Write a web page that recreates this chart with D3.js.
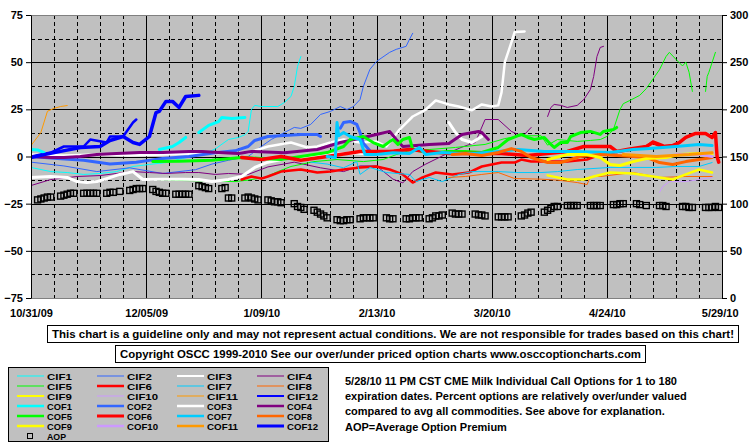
<!DOCTYPE html>
<html><head><meta charset="utf-8">
<script src="https://cdn.jsdelivr.net/npm/d3@7"></script>
<style>
body{margin:0;background:#fff}
svg{display:block}
text{font-family:Arial,"Liberation Sans",sans-serif;font-weight:bold;font-size:11px;fill:#000}
</style>
</head><body>
<svg id="c" width="755" height="446"></svg>
<script>
// ---------- DATA ----------
const xTickLabels = ["10/31/09","12/05/09","1/09/10","2/13/10","3/20/10","4/24/10","5/29/10"];
const leftTicks = [-75,-50,-25,0,25,50,75];
const rightTicks = [0,50,100,150,200,250,300];
const seriesNames = ["CIF1","CIF2","CIF3","CIF4","CIF5","CIF6","CIF7","CIF8","CIF9","CIF10","CIF11","CIF12",
                     "COF1","COF2","COF3","COF4","COF5","COF6","COF7","COF8","COF9","COF10","COF11","COF12"];
// [day offset from 10/31/09, percent]
const CIF1 = [[0,-5.8],[6,-8],[11,-8.5],[16,-9.5],[21,-9],[26,-8],[31,-5.3],[36,-4.2],[41,-3.2],[46,-1],[52,1],[56,4],[60,9],[63,10.1],[65,11.5],[66,13.3],[67,24.9],[68,27.1],[70,26.5],[75,26.5],[77,28.6],[79,31.8],[80,37.1],[81,47.7],[82,53]];
const CIF2 = [[0,-3],[10,-5],[20,-8],[30,-6],[40,-9],[50,-7],[55,-4],[60,-2],[66,0],[70,5.3],[73,9],[77,12.7],[80,15.4],[82,14.9],[85,17],[88,22.3],[91,23.9],[94,26.5],[96,24.9],[98,26.5],[100,30.2],[101,37.1],[103,46.2],[105,50.4],[109,55.2],[111,56.8],[114,58.4],[115,62],[116,65.3]];
const CIF3 = [[0,1],[10,0.5],[20,1],[30,0.5],[40,1],[50,1.5],[60,2],[66,2],[72,5.3],[79,7.4],[84,4.8],[87,5.3],[91,7.4],[95,9],[100,7.4],[105,7.9],[108,5.3],[112,14.3],[116,21.2],[120,24.9],[123,29.7],[127,27.6],[130,26.5],[134,24.5],[137,27.6],[140,26.5],[142,27.1],[143,34],[144,50],[146,60.5],[147,66],[150,66.3]];
const CIF4 = [[0,-15.4],[6,-12.2],[14,-10.6],[21,-10.1],[26,-9],[31,-8],[36,-8.5],[41,-9],[47,-8.5],[51,-8.5],[56,-9.5],[60,-9],[66,-9.5],[72,-5.5],[80,-3],[88,-6],[95,-8],[100,-5],[105,-5],[110,-12],[113,-14],[116,-8],[120,-4],[127,2],[131,5],[135,7.4],[138,19.6],[142,19.6],[146,13.3],[148,11.7],[150,11.7],[152,15.4],[154,null],[157,21.2],[158,26],[159,27.6],[161,27.1],[163,26],[166,27.1],[168,30.2],[170,35.5],[171,42.4],[172,53],[173,57.8],[174,58.4]];
const CIF5 = [[37,-12.2],[45,-12.7],[55,-13],[62,-13.3],[66,-12.5],[71,-11.1],[75,-8],[79,-5.3],[86,-2.7],[93,-1.6],[101,-2.7],[107,-1.6],[111,1],[116,3.7],[121,3.7],[129,4.8],[138,6.4],[144,9.5],[149,11],[155,11],[157,6],[160,9],[166,8],[170,8.5],[173,9],[175,10.6],[177,14.3],[179,24.9],[180,28],[182,29.7],[185,32.4],[187,36],[189,41],[191,46],[193,53],[194,55.2],[196,51.5],[198,48],[199,50],[200,44.6],[201,34.5],[203,null],[205,34.5],[205.5,42.4],[206,44.6],[207,49.9],[208,55.2]];
const CIF6 = [[64,-12.2],[67,-10.6],[70,-11.7],[72,-10.6],[76,-8],[82,-6.9],[87,-8.5],[91,-8],[95,-6.9],[100,-5.8],[105,-5.3],[109,-6.9],[113,-9.5],[116,-13.8],[119,-11.1],[123,-8.5],[128,-9.5],[133,-8.5],[137,-5.3],[143,-3.2],[147,-3.2],[149,-1.6],[152,-2.7],[156,-2.7],[163,-2.7],[169,-1.6],[173,1],[177,2.1],[183,3.7],[187,5.3],[189,8],[192,6]];
const CIF7 = [[85,-3],[90,-4],[95,-6],[99,-2.7],[100,-9.5],[103,-5.8],[108,-8.5],[115,-9.5],[117,-13.3],[121,-11.1],[125,-13.3],[130,-9.5],[134,-8],[142,-8],[148,-8.5],[155,-8.5],[160,-8],[166,-6.9],[176,-5.8],[183,-5.8],[190,-5.8],[196,-5.3],[203,-5.3],[207,-3.2]];
const CIF8 = [[127,-11.1],[132,-10.6],[137,-9.5],[142,-8.5],[147,-11.7],[155,-12],[160,-12.5],[166,-13.8],[169,-14.9],[170,-10.6],[173,-10.6],[183,-8.5],[191,-11.1],[199,-10.6],[207,-10.6]];
const CIF9 = [[157,-10],[163,-12.2],[168,-12.2],[171,-10.6],[176,-8.5],[183,-9],[189,-10.6],[195,-12.2],[199,-9.5],[203,-6.9],[207,-8.5]];
const CIF10 = [[191,-19],[192,-15.9],[194,-13.3],[199,-13.3],[203,-12.2],[207,-11.1]];
const CIF11 = [[0,5.8],[3,12.7],[5,24],[7,25.5],[9,26.5],[11,27]];
const CIF12 = [[0,0],[6,2.1],[10,5.3],[16,5.3],[18,9],[23,7.4],[24,10.6],[28,10.6],[31,18],[32,19.6]];
const COF1 = [[0,3.7],[2,3.5],[4,2],[6,null],[39,3.7],[43,5.3],[45,7.4],[47,10.1],[49,null],[51,12.7],[54,16.5],[57,18.5],[58,20.7],[61,20.2],[65,20.7]];
const COF2 = [[0,0],[8,-1],[16,-2],[24,-4],[32,-3],[40,-1],[48,0],[56,2],[62,3],[66,5.3],[68,8.5],[72,10.6],[77,11.1],[82,11.7],[87,11.7],[88,10.6],[90,null],[94,15],[95,18],[97,18.6],[99,17],[100,12.7],[101,7],[103,3]];
const COF3 = [[0,-11.1],[6,-10.6],[11,-11.1],[14,-13.3],[17,-13.8],[20,-13.3],[23,-11.7],[27,-9.5],[31,-8],[34,-12.2],[40,-12],[46,-12],[51,-12.2],[55,-13.3],[60,-12.2],[64,-10.6],[68,-5.8],[72,-3],[78,-1],[85,0],[92,1],[98,2],[105,1],[110,3],[115,null],[127,18],[129,12.7],[131,9],[134,7.4],[137,10.6]];
const COF4 = [[0,0],[6,-0.5],[10,-0.5],[15,0],[20,1],[26,1.6],[33,2.1],[40,2.1],[48,2.7],[52,2.7],[57,2.1],[63,1.6],[67,2.7],[77,2],[87,3.7],[94,7.4],[101,10.1],[105,11.7],[109,13.3],[111,9],[113,5.3],[121,6.4],[127,6.9],[131,11.7],[136,13.3],[137,12.7],[139,9]];
const COF5 = [[37,-2.7],[45,-2.5],[55,-2],[64,-0.5],[70,-1],[76,-1.6],[84,0.5],[90,2.1],[95,5.3],[97,9],[101,10.6],[104,7.4],[107,5.3],[109,7.9],[110,9],[111.5,6.4],[113,9],[115,10.1],[116,3.7],[119,2.7],[123,2.1],[127,2.7],[132,2.7],[137,2.1],[142,4.8],[145,9],[149,11.7],[151,10.1],[153,9],[156,10.1],[158,6.4],[159,4.8],[161,7.4],[163,7.4],[164,10.6],[167,12.7],[170,13.3],[173,11.7],[174,13.3],[177,14.3],[178,15.4]];
const COF6 = [[64,-0.5],[70,-1.6],[76,0],[82,-2],[90,0],[100,2.7],[109,2.7],[115,3.7],[121,2.7],[127,1.6],[136,1.6],[143,1.6],[151,0.5],[163,2.7],[168,5.3],[176,5.3],[178,2.7],[182,4],[187,5.3],[189,7.4],[192,5.3],[195,5.8],[197,7.4],[199,10.1],[202,12.2],[205,12.2],[207,10.1],[208,12.7],[208.5,0],[209,-3]];
const COF7 = [[90,0],[92.5,-0.5],[93,18],[93.5,11],[95,12.7],[97,10.6],[100,9],[101,3.7],[101.5,1],[105,1],[110,2],[115,1.6],[118,4.8],[120,1],[125,2.1],[130,1.6],[135,1.6],[142,2.7],[148,3.7],[156,2.7],[165,2.7],[176,2.1],[183,3.7],[188,4.2],[196,5.3],[203,6.4],[207,5.8]];
const COF8 = [[128,1],[132,1.6],[137,0.5],[142,2.1],[146,4.2],[149,2.7],[152,-0.5],[157,-3.2],[161,-3.2],[167,0],[173,1],[178,0.5],[183,0],[187,-0.5],[191,-3.2],[195,-4.2],[199,-2.7],[203,-1.6],[207,-0.5]];
const COF9 = [[157,-1.6],[163,1],[169,1],[173,-0.5],[176,-4.2],[179,-4.8],[183,-2.7],[187,-1.1],[193,-0.5],[197,1],[203,1.6],[207,1]];
const COF10 = [[196,1],[200,1],[204,1],[207,0]];
const COF11 = [[180,1],[190,0],[200,1],[207,2]];
const COF12 = [[0,-0.5],[4,1],[9,2.7],[15,4.8],[21,5.3],[24,8.5],[28,10.6],[31,7.4],[33,6.4],[36,10.6],[38,23.3],[39,23.9],[41,29.2],[43,29.2],[45,26],[47,31.8],[51,32.4]];
const AOP = [[2,104],[3,105],[4,106],[5,107],[6,107],[9,108],[10,109],[11,110],[12,111],[13,111],
[16,111],[17,111],[18,111],[19,111],[20,111],[23,111],[24,112],[25,112],[27,113],
[30,114],[31,115],[32,116],[33,116],[34,116],[37,115],[38,113],[39,112],[40,111],[41,111],
[44,110],[45,110],[46,110],[47,110],[48,110],[51,119],[52,118],[53,117],[54,116],
[58,116],[59,117],[60,106],[61,106],[65,106],[66,107],[67,106],[68,105],[69,104],
[72,104],[73,103],[74,102],[75,102],[76,101],[80,100],[81,97],[82,96],[83,94],
[86,93],[87,91],[88,89],[89,87],[90,85],[93,83],[94,82],[95,82],[96,83],[97,83],
[100,84],[101,85],[102,85],[103,85],[104,85],[108,85],[109,84],[110,84],
[114,84],[115,84],[116,85],[117,85],[118,85],[121,84],[122,85],[123,87],[124,87],[125,88],
[128,90],[129,89],[130,89],[131,89],[135,89],[136,88],[137,88],[138,87],
[142,86],[143,86],[144,86],[145,86],[149,87],[150,88],[151,90],[152,91],
[156,91],[157,93],[158,95],[159,97],[160,97],[163,98],[164,98],[165,98],[166,98],
[170,98],[171,98],[172,98],[173,98],[177,99],[178,99],[179,100],[180,100],
[184,100],[185,99],[187,98],[191,98],[192,98],[193,97],
[198,97],[199,97],[200,96],[201,96],[205,96],[206,96],[207,96],[208,97],[209,96]];
const seriesData = [CIF1,CIF2,CIF3,CIF4,CIF5,CIF6,CIF7,CIF8,CIF9,CIF10,CIF11,CIF12,
                    COF1,COF2,COF3,COF4,COF5,COF6,COF7,COF8,COF9,COF10,COF11,COF12];
const disclaimer = "This chart is a guideline only and may not represent actual conditions. We are not responsible for trades based on this chart!";
const copyright = "Copyright OSCC 1999-2010 See our over/under priced option charts www.osccoptioncharts.com";
const notes = ["5/28/10 11 PM CST CME Milk Individual Call Options for 1 to 180",
  "expiration dates. Percent options are relatively over/under valued",
  "compared to avg all commodities. See above for explanation.",
  "AOP=Average Option Premium"];

// ---------- STYLES ----------
const palette = ["#00FFFF","#3366FF","#FFFFFF","#800080","#00FF00","#FF0000","#00CCFF","#FF6600","#FFFF00","#CC99FF","#FF9900","#0000FF"];
const cifWidth = [1,1,2.5,1,1,2.5,1,1,2.5,1,1,2.5];
const cofWidth = [3,3,3,3,3,3.5,3,3,3,3,3,3.5];
const legCif = [1,1,2,1,1,2.5,1,1,2,1,1,2];
const legCof = [2.5,2.5,2.5,2.5,2.5,3,2.5,2.5,2.5,2.5,2.5,3];

// ---------- SCALES ----------
const svg = d3.select("#c");
const parse = d3.utcParse("%m/%d/%y");
const start = parse(xTickLabels[0]);
const end = parse(xTickLabels[xTickLabels.length-1]);
const toDate = d => new Date(+start + d*864e5);
const L = 31, R = 722, T = 15, B = 298;
const x = d3.scaleUtc().domain([start,end]).range([L,R]);
const yL = d3.scaleLinear().domain([-75,75]).range([B,T]);
const yR = d3.scaleLinear().domain([0,300]).range([B,T]);

// plot background
svg.append("rect").attr("x",L).attr("y",T).attr("width",R-L).attr("height",B-T).attr("fill","#C0C0C0");

// grid
const g = svg.append("g");
d3.range(-62.5,75,12.5).forEach(v=>{
  const major = v%25===0;
  g.append("line").attr("x1",L).attr("x2",R).attr("y1",Math.round(yL(v))+0.5).attr("y2",Math.round(yL(v))+0.5)
   .attr("stroke","#000").attr("stroke-width",1).attr("stroke-dasharray",major?null:"4,3");
});
const totalDays = Math.round((end-start)/864e5);
d3.range(7,totalDays,7).forEach(d=>{
  const major = d%35===0;
  const xx = Math.round(x(toDate(d)))+0.5;
  g.append("line").attr("x1",xx).attr("x2",xx).attr("y1",T).attr("y2",B)
   .attr("stroke","#000").attr("stroke-width",1).attr("stroke-dasharray",major?null:"4,3");
});
// borders
svg.append("line").attr("x1",L).attr("x2",R).attr("y1",T+0.5).attr("y2",T+0.5).attr("stroke","#808080");
svg.append("line").attr("x1",L).attr("x2",R).attr("y1",B+0.5).attr("y2",B+0.5).attr("stroke","#808080");

// clip
svg.append("clipPath").attr("id","clip").append("rect").attr("x",L).attr("y",T).attr("width",R-L).attr("height",B-T);
const plot = svg.append("g").attr("clip-path","url(#clip)");

const line = d3.line().defined(d=>d[1]!==null).x(d=>x(toDate(d[0]))).y(d=>yL(d[1]));
seriesData.forEach((s,i)=>{
  const k = i%12, isCof = i>=12;
  plot.append("path").datum(s).attr("d",line).attr("fill","none")
    .attr("stroke",palette[k]).attr("stroke-width",isCof?cofWidth[k]:cifWidth[k])
    .attr("stroke-linejoin","round").attr("stroke-linecap","round");
});
// AOP squares
plot.selectAll("rect.aop").data(AOP).enter().append("rect").attr("class","aop")
  .attr("x",d=>x(toDate(d[0]))-3).attr("y",d=>yR(d[1])-3).attr("width",6).attr("height",6)
  .attr("fill","none").attr("stroke","#000").attr("stroke-width",1.4);

// axes
const axL = svg.append("g").attr("transform",`translate(${L},0)`)
  .call(d3.axisLeft(yL).tickValues(leftTicks).tickFormat(d3.format("d")).tickSize(5).tickSizeOuter(0).tickPadding(3));
const axR = svg.append("g").attr("transform",`translate(${R},0)`)
  .call(d3.axisRight(yR).tickValues(rightTicks).tickFormat(d3.format("d")).tickSize(5).tickSizeOuter(0).tickPadding(3));
const axB = svg.append("g").attr("transform",`translate(0,${B})`)
  .call(d3.axisBottom(x).tickValues(xTickLabels.map(parse)).tickFormat(d3.utcFormat("%-m/%d/%y")).tickSize(0).tickPadding(11));
axB.select(".domain").remove();
[axL,axR,axB].forEach(a=>{
  a.attr("font-family",null).attr("font-size",null);
  a.selectAll("text").style("font-family","Arial,'Liberation Sans',sans-serif").style("font-weight","bold").style("font-size","11px").attr("fill","#000");
  a.selectAll(".domain").attr("stroke","#000");
  a.selectAll(".tick line").attr("stroke","#000");
});
axB.selectAll(".tick text").filter((d,i)=>i===xTickLabels.length-1).attr("text-anchor","end").attr("dx","16");

// text boxes
function box(x0,y0,w,h,txt,tl){
  svg.append("rect").attr("x",x0+0.5).attr("y",y0+0.5).attr("width",w).attr("height",h).attr("fill","#fff").attr("stroke","#000");
  svg.append("text").attr("x",x0+5).attr("y",y0+h-4).attr("textLength",tl).attr("lengthAdjust","spacingAndGlyphs").text(txt);
}
box(47,325,691,17,disclaimer,682);
box(115,345,530,17,copyright,521);

// legend
svg.append("rect").attr("x",8.5).attr("y",367.5).attr("width",320).attr("height",74).attr("fill","#C0C0C0").attr("stroke","#000");
seriesNames.forEach((n,i)=>{
  const col = i%4, row = Math.floor(i/4);
  const k = i%12, isCof = i>=12;
  const lx = 17 + col*80, ly = 376 + row*10;
  svg.append("line").attr("x1",lx).attr("x2",lx+27).attr("y1",ly).attr("y2",ly)
    .attr("stroke",palette[k]).attr("stroke-width",isCof?legCof[k]:legCif[k]);
  svg.append("text").attr("x",lx+30).attr("y",ly+3.5).style("font-size","8.6px")
    .attr("textLength",n.length*6.2).attr("lengthAdjust","spacingAndGlyphs").text(n);
});
svg.append("rect").attr("x",27.5).attr("y",433.5).attr("width",5).attr("height",5).attr("fill","none").attr("stroke","#000");
svg.append("text").attr("x",47).attr("y",439.5).style("font-size","8.6px").attr("textLength",19).attr("lengthAdjust","spacingAndGlyphs").text("AOP");

// notes
notes.forEach((t,i)=>{
  svg.append("text").attr("x",345).attr("y",385+i*15.2).text(t);
});
</script>
</body></html>
